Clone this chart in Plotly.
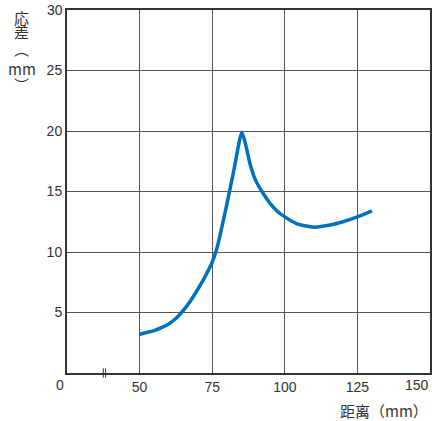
import plotly.graph_objects as go

# distance (mm) vs hysteresis (mm)
distance = [50, 52.5, 55, 57.5, 60, 62.5, 65, 67.5, 70, 72.5, 75, 76.5, 78, 80, 82.5,
            85.2, 86.5, 88, 90, 92.4, 95, 97.5, 100, 104, 110, 116, 120, 125, 130]
hysteresis = [3.2, 3.35, 3.5, 3.75, 4.05, 4.5, 5.15, 5.95, 6.9, 7.95, 9.15, 10.2, 11.7, 13.9, 16.8,
              19.9, 18.9, 17.3, 15.9, 14.9, 14.0, 13.35, 12.9, 12.35, 12.05, 12.25, 12.5, 12.9, 13.4]

# the x axis is broken between 0 and 50, so "0" sits at position 25
x_tickvals = [25, 50, 75, 100, 125, 150]
x_ticktext = ["", "50", "75", "100", "125", ""]
y_tickvals = [5, 10, 15, 20, 25, 30]
y_ticktext = ["5", "10", "15", "20", "25", ""]

grid_col = "#555555"
axis_col = "#333333"
font_fam = "Liberation Sans, Arial, sans-serif"
cjk_fam = "Noto Sans CJK JP, Noto Sans CJK SC, sans-serif"

fig = go.Figure()
fig.add_trace(go.Scatter(
    x=distance, y=hysteresis, mode="lines",
    line=dict(color="#0072bc", width=3.5, shape="spline", smoothing=0.6),
    showlegend=False, hoverinfo="skip"))

fig.update_xaxes(range=[25, 150], tickvals=x_tickvals, ticktext=x_ticktext, automargin=False,
                 showgrid=True, gridcolor=grid_col, gridwidth=1.2,
                 showline=True, linecolor=axis_col, linewidth=2, mirror=True,
                 ticks="", zeroline=False,
                 tickfont=dict(family=font_fam, size=14, color=axis_col))
fig.update_yaxes(range=[0, 30], tickvals=y_tickvals, ticktext=y_ticktext, automargin=False,
                 showgrid=True, gridcolor=grid_col, gridwidth=1.2,
                 showline=True, linecolor=axis_col, linewidth=2, mirror=True,
                 ticks="", zeroline=False,
                 tickfont=dict(family=font_fam, size=14, color=axis_col))

# end labels that plotly would hide at the edges
fig.add_annotation(x=25, y=0, xref="x", yref="y", text="0", showarrow=False,
                   xanchor="center", yanchor="top", xshift=-7, yshift=-2,
                   font=dict(family=font_fam, size=14, color=axis_col))
fig.add_annotation(x=150, y=0, xref="x", yref="y", text="150", showarrow=False,
                   xanchor="right", yanchor="top", xshift=1, yshift=-2,
                   font=dict(family=font_fam, size=14, color=axis_col))
fig.add_annotation(x=25, y=30, xref="x", yref="y", text="30", showarrow=False,
                   xanchor="right", yanchor="middle", xshift=-2,
                   font=dict(family=font_fam, size=14, color=axis_col))

# axis break marks
for xb in [37.5, 38.3]:
    fig.add_shape(type="line", xref="x", yref="paper", x0=xb, x1=xb, y0=-0.013, y1=0.013,
                  line=dict(color=axis_col, width=1))

# vertical y title
title_parts = ["応", "差", "︵", "mm", "︶"]
title_y = [0.980, 0.940, 0.895, 0.840, 0.795]
for part, ty in zip(title_parts, title_y):
    fig.add_annotation(xref="paper", yref="paper", x=-0.124, y=ty, xanchor="center", yanchor="middle",
                       text=part, showarrow=False,
                       font=dict(family=cjk_fam, size=15, color=axis_col))

fig.add_annotation(xref="paper", yref="paper", x=1.0, y=-0.102, xanchor="right", yanchor="middle",
                   text="距离（mm）", showarrow=False,
                   font=dict(family=cjk_fam, size=15, color=axis_col))

fig.update_layout(width=432, height=421, plot_bgcolor="white", paper_bgcolor="white",
                  margin=dict(l=67, r=2, t=10, b=48))

# drop the default body margin so the figure fills the window
fig.write_html("out.html", config={"displayModeBar": False},
               post_script="document.body.style.margin='0';")
